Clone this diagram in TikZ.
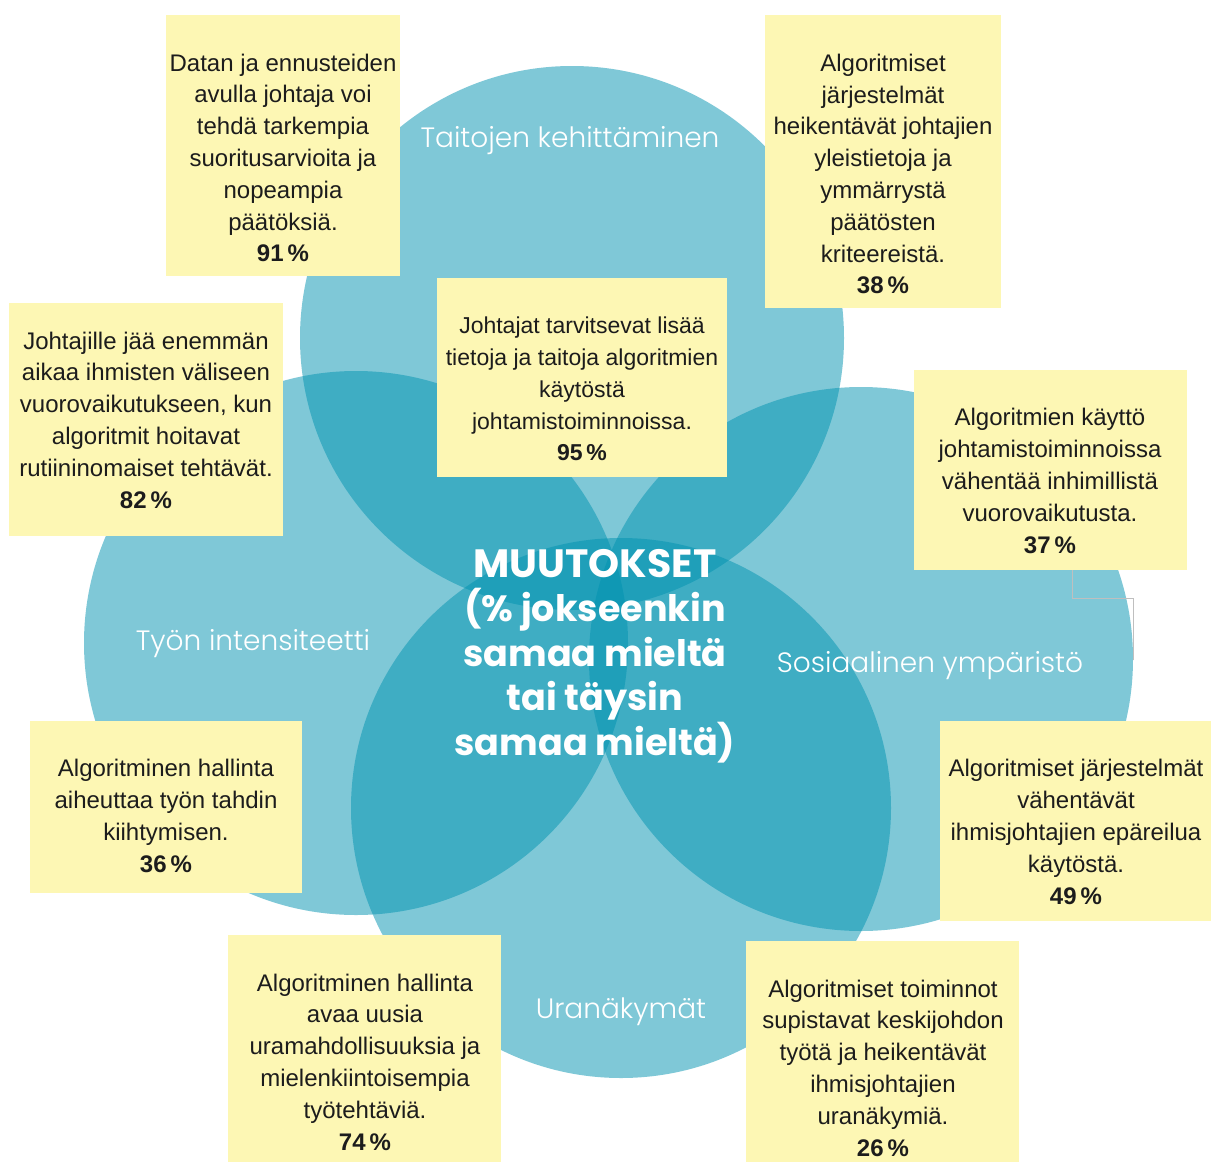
\documentclass[tikz,border=0pt]{standalone}
\usepackage{fontspec}
\setmainfont{Liberation Sans}
\newfontfamily\labelfont{Poppins Light}
\newfontfamily\titlefont{Poppins}

\definecolor{petalcol}{RGB}{0,147,177}
\definecolor{notecol}{RGB}{253,247,180}
\definecolor{inkcol}{RGB}{28,28,28}

\tikzset{
  petal/.style={circle, fill=petalcol, fill opacity=0.5, inner sep=0pt, minimum size=#1},
  note/.style={fill=notecol, inner sep=0pt, anchor=north west},
  notetext/.style={text=inkcol, align=center, inner sep=0pt,
    font=\fontsize{24}{31.8}\selectfont},
  midtext/.style={notetext, font=\fontsize{23}{31.8}\selectfont},
  ringlabel/.style={text=white, inner sep=0pt, font=\labelfont\fontsize{28}{34}\selectfont},
  heading/.style={text=white, align=center, inner sep=0pt,
    font=\titlefont\bfseries\fontsize{36.5}{44.5}\selectfont},
  handle/.style={draw=black!25, line width=0.6pt}
}

\begin{document}
\begin{tikzpicture}[x=1pt,y=-1pt]
  \fill[white] (0,0) rectangle (1211,1162);
  \useasboundingbox (0,0) rectangle (1211,1162);

  % four overlapping petals
  \node[petal=544] (ptop)    at (572,338) {};
  \node[petal=544] (pleft)   at (356,643) {};
  \node[petal=544] (pright)  at (861,659) {};
  \node[petal=540] (pbottom) at (621,808) {};

  % thin frame left over beside the right note
  \coordinate (h1) at (1072,570);
  \coordinate (h2) at (1072,598);
  \coordinate (h3) at (1133,598);
  \coordinate (h4) at (1133,660);
  \draw[handle] (h1) -- (h2) -- (h3) -- (h4);

  % note backgrounds
  \node[note, minimum width=234, minimum height=261] (b1) at (166,15)  {};
  \node[note, minimum width=236, minimum height=293] (b2) at (765,15)  {};
  \node[note, minimum width=290, minimum height=199] (b3) at (437,278) {};
  \node[note, minimum width=274, minimum height=233] (b4) at (9,303)   {};
  \node[note, minimum width=273, minimum height=200] (b5) at (914,370) {};
  \node[note, minimum width=272, minimum height=172] (b6) at (30,721)  {};
  \node[note, minimum width=271, minimum height=200] (b7) at (940,721) {};
  \node[note, minimum width=273, minimum height=227] (b8) at (228,935) {};
  \node[note, minimum width=273, minimum height=221] (b9) at (746,941) {};

  % note texts
  \node[notetext] (t1) at (283,158) {Datan ja ennusteiden\\avulla johtaja voi\\tehdä tarkempia\\suoritusarvioita ja\\nopeampia\\päätöksiä.\\\textbf{91\,\%}};
  \node[notetext] (t2) at (883,174) {Algoritmiset\\järjestelmät\\heikentävät johtajien\\yleistietoja ja\\ymmärrystä\\päätösten\\kriteereistä.\\\textbf{38\,\%}};
  \node[midtext]  (t3) at (582,389) {Johtajat tarvitsevat lisää\\tietoja ja taitoja algoritmien\\käytöstä\\johtamistoiminnoissa.\\\textbf{95\,\%}};
  \node[notetext] (t4) at (146,420) {Johtajille jää enemmän\\aikaa ihmisten väliseen\\vuorovaikutukseen, kun\\algoritmit hoitavat\\rutiininomaiset tehtävät.\\\textbf{82\,\%}};
  \node[notetext] (t5) at (1050,481) {Algoritmien käyttö\\johtamistoiminnoissa\\vähentää inhimillistä\\vuorovaikutusta.\\\textbf{37\,\%}};
  \node[notetext] (t6) at (166,816) {Algoritminen hallinta\\aiheuttaa työn tahdin\\kiihtymisen.\\\textbf{36\,\%}};
  \node[notetext] (t7) at (1076,832) {Algoritmiset järjestelmät\\vähentävät\\ihmisjohtajien epäreilua\\käytöstä.\\\textbf{49\,\%}};
  \node[notetext] (t8) at (365,1062) {Algoritminen hallinta\\avaa uusia\\uramahdollisuuksia ja\\mielenkiintoisempia\\työtehtäviä.\\\textbf{74\,\%}};
  \node[notetext] (t9) at (883,1068) {Algoritmiset toiminnot\\supistavat keskijohdon\\työtä ja heikentävät\\ihmisjohtajien\\uranäkymiä.\\\textbf{26\,\%}};

  % petal labels
  \node[ringlabel] (ltop)    at (570,141)  {Taitojen kehittäminen};
  \node[ringlabel] (lleft)   at (253,644)  {Työn intensiteetti};
  \node[ringlabel] (lright)  at (930,666)  {Sosiaalinen ympäristö};
  \node[ringlabel] (lbottom) at (621,1012) {Uranäkymät};

  % centre heading
  \node[heading] (head) at (595,656) {{\fontsize{39.5}{44.5}\selectfont MUUTOKSET}\\(\% jokseenkin\\samaa mieltä\\tai täysin\\samaa mieltä)};
\end{tikzpicture}
\end{document}
